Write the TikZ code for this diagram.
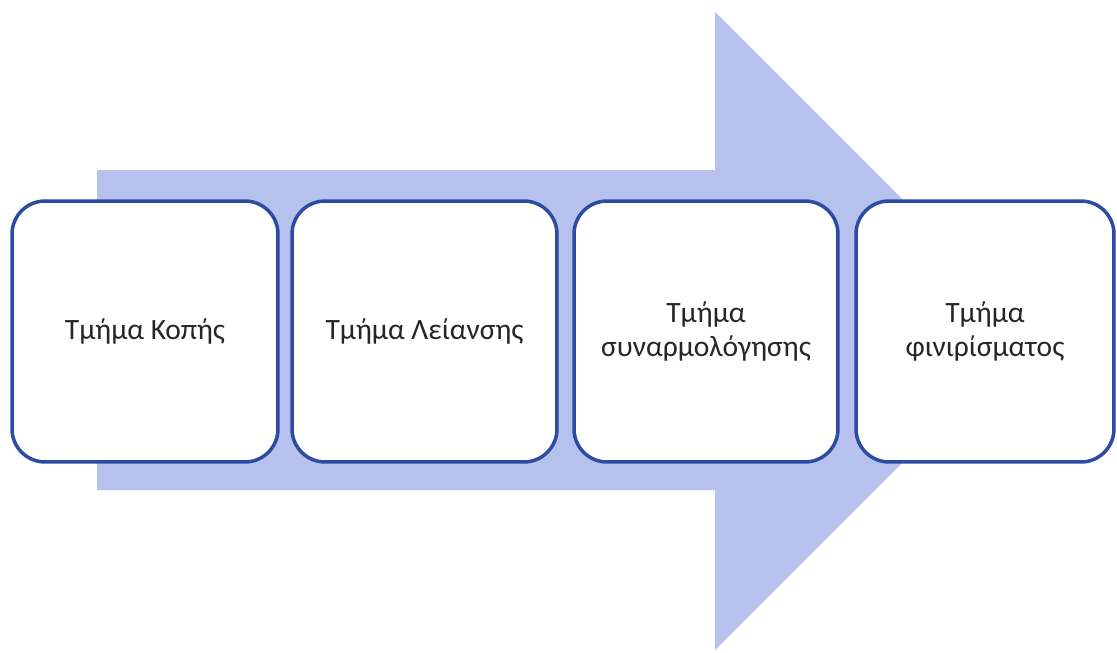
\documentclass[tikz,border=0pt]{standalone}
\usepackage{fontspec}
\setmainfont{Carlito}
\usepackage{tikz}

\definecolor{flowbg}{HTML}{B6C1EE}
\definecolor{boxedge}{HTML}{2C4CA3}

\begin{document}
\begin{tikzpicture}[
  x=0.02cm, y=-0.02cm,
  font=\fontsize{16.8}{19.4}\selectfont,
  dept/.style={draw=boxedge, fill=white, rounded corners=0.66cm, line width=0.07cm, align=center, minimum height=5.22cm, inner sep=2pt, text=black!85},
]
\useasboundingbox (0,0) rectangle (1117,653);
% big background arrow
\fill[flowbg] (97,170) -- (715,170) -- (715,12) -- (1034,331) -- (715,650) -- (715,490) -- (97,490) -- cycle;
% departments
\node[dept, minimum width=5.32cm] (cut) at (145,331.5) {Τμήμα Κοπής};
\node[dept, minimum width=5.30cm] (smooth) at (424.5,331.5) {Τμήμα Λείανσης};
\node[dept, minimum width=5.28cm] (assem) at (706,331.5) {Τμήμα\\συναρμολόγησης};
\node[dept, minimum width=5.16cm] (finish) at (985,331.5) {Τμήμα\\φινιρίσματος};
\end{tikzpicture}
\end{document}
